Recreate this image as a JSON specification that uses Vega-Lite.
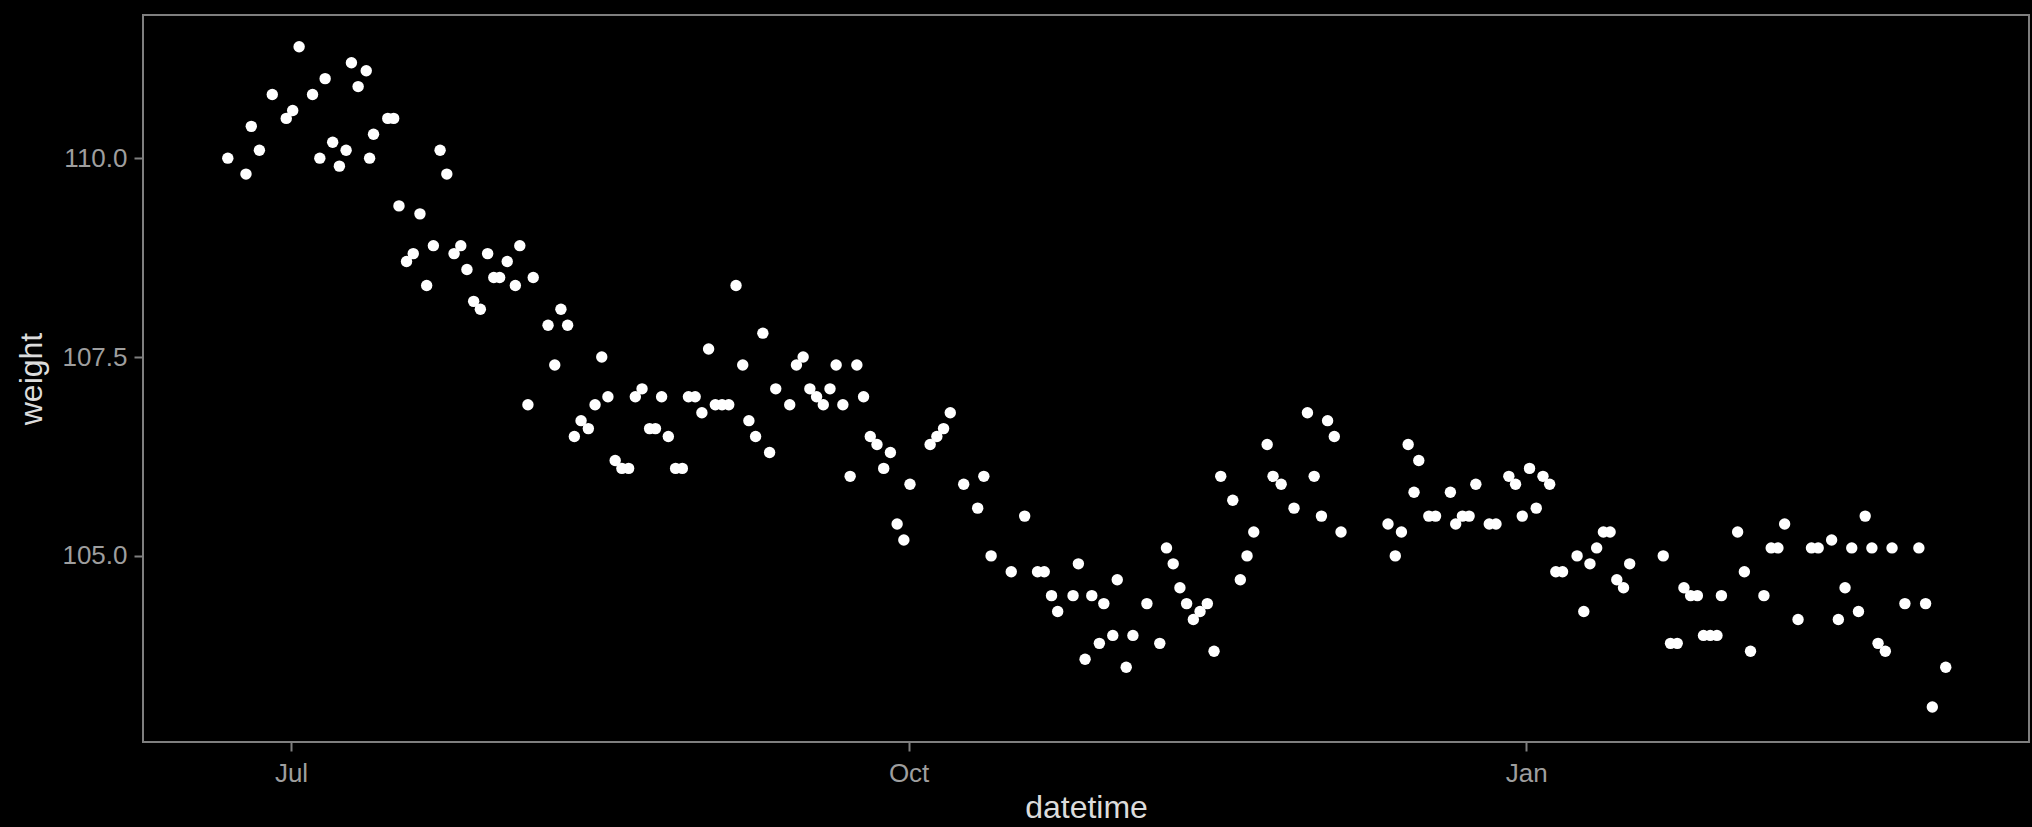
{
  "$schema": "https://vega.github.io/schema/vega-lite/v6.json",
  "width": 1886,
  "height": 727,
  "autosize": {"type": "none"},
  "padding": {"left": 143, "top": 15, "right": 3, "bottom": 85},
  "background": "#000000",
  "config": {
    "view": {"stroke": "#7f7f7f", "strokeWidth": 2, "fill": "#000000"},
    "axis": {
      "domain": false,
      "grid": false,
      "tickColor": "#7f7f7f",
      "tickWidth": 2,
      "tickSize": 9,
      "labelFont": "Liberation Sans",
      "labelFontSize": 26,
      "labelColor": "#9e9e9e",
      "titleFont": "Liberation Sans",
      "titleFontSize": 32,
      "titleFontWeight": "normal",
      "titleColor": "#dcdcdc"
    }
  },
  "data": {
    "values": [
      {"datetime": "2022-06-21T14:00", "weight": 110.0},
      {"datetime": "2022-06-24T07:00", "weight": 109.8},
      {"datetime": "2022-06-25T02:00", "weight": 110.4},
      {"datetime": "2022-06-26T07:00", "weight": 110.1},
      {"datetime": "2022-06-28T05:00", "weight": 110.8},
      {"datetime": "2022-06-30T07:00", "weight": 110.5},
      {"datetime": "2022-07-01T06:00", "weight": 110.6},
      {"datetime": "2022-07-02T05:00", "weight": 111.4},
      {"datetime": "2022-07-04T05:00", "weight": 110.8},
      {"datetime": "2022-07-05T07:00", "weight": 110.0},
      {"datetime": "2022-07-06T02:00", "weight": 111.0},
      {"datetime": "2022-07-07T05:00", "weight": 110.2},
      {"datetime": "2022-07-08T05:00", "weight": 109.9},
      {"datetime": "2022-07-09T05:00", "weight": 110.1},
      {"datetime": "2022-07-10T00:00", "weight": 111.2},
      {"datetime": "2022-07-11T00:00", "weight": 110.9},
      {"datetime": "2022-07-12T05:00", "weight": 111.1},
      {"datetime": "2022-07-12T17:00", "weight": 110.0},
      {"datetime": "2022-07-13T07:00", "weight": 110.3},
      {"datetime": "2022-07-15T10:00", "weight": 110.5},
      {"datetime": "2022-07-16T07:00", "weight": 110.5},
      {"datetime": "2022-07-17T02:00", "weight": 109.4},
      {"datetime": "2022-07-18T05:00", "weight": 108.7},
      {"datetime": "2022-07-19T05:00", "weight": 108.8},
      {"datetime": "2022-07-20T05:00", "weight": 109.3},
      {"datetime": "2022-07-21T05:00", "weight": 108.4},
      {"datetime": "2022-07-22T05:00", "weight": 108.9},
      {"datetime": "2022-07-23T05:00", "weight": 110.1},
      {"datetime": "2022-07-24T05:00", "weight": 109.8},
      {"datetime": "2022-07-25T07:00", "weight": 108.8},
      {"datetime": "2022-07-26T07:00", "weight": 108.9},
      {"datetime": "2022-07-27T05:00", "weight": 108.6},
      {"datetime": "2022-07-28T05:00", "weight": 108.2},
      {"datetime": "2022-07-29T05:00", "weight": 108.1},
      {"datetime": "2022-07-30T07:00", "weight": 108.8},
      {"datetime": "2022-07-31T05:00", "weight": 108.5},
      {"datetime": "2022-08-01T02:00", "weight": 108.5},
      {"datetime": "2022-08-02T05:00", "weight": 108.7},
      {"datetime": "2022-08-03T10:00", "weight": 108.4},
      {"datetime": "2022-08-04T02:00", "weight": 108.9},
      {"datetime": "2022-08-05T07:00", "weight": 106.9},
      {"datetime": "2022-08-06T02:00", "weight": 108.5},
      {"datetime": "2022-08-08T07:00", "weight": 107.9},
      {"datetime": "2022-08-09T07:00", "weight": 107.4},
      {"datetime": "2022-08-10T05:00", "weight": 108.1},
      {"datetime": "2022-08-11T05:00", "weight": 107.9},
      {"datetime": "2022-08-12T05:00", "weight": 106.5},
      {"datetime": "2022-08-13T05:00", "weight": 106.7},
      {"datetime": "2022-08-14T07:00", "weight": 106.6},
      {"datetime": "2022-08-15T07:00", "weight": 106.9},
      {"datetime": "2022-08-16T07:00", "weight": 107.5},
      {"datetime": "2022-08-17T05:00", "weight": 107.0},
      {"datetime": "2022-08-18T07:00", "weight": 106.2},
      {"datetime": "2022-08-19T07:00", "weight": 106.1},
      {"datetime": "2022-08-20T07:00", "weight": 106.1},
      {"datetime": "2022-08-21T07:00", "weight": 107.0},
      {"datetime": "2022-08-22T07:00", "weight": 107.1},
      {"datetime": "2022-08-23T10:00", "weight": 106.6},
      {"datetime": "2022-08-24T07:00", "weight": 106.6},
      {"datetime": "2022-08-25T05:00", "weight": 107.0},
      {"datetime": "2022-08-26T05:00", "weight": 106.5},
      {"datetime": "2022-08-27T07:00", "weight": 106.1},
      {"datetime": "2022-08-28T07:00", "weight": 106.1},
      {"datetime": "2022-08-29T05:00", "weight": 107.0},
      {"datetime": "2022-08-30T05:00", "weight": 107.0},
      {"datetime": "2022-08-31T05:00", "weight": 106.8},
      {"datetime": "2022-09-01T05:00", "weight": 107.6},
      {"datetime": "2022-09-02T05:00", "weight": 106.9},
      {"datetime": "2022-09-03T05:00", "weight": 106.9},
      {"datetime": "2022-09-04T05:00", "weight": 106.9},
      {"datetime": "2022-09-05T07:00", "weight": 108.4},
      {"datetime": "2022-09-06T07:00", "weight": 107.4},
      {"datetime": "2022-09-07T05:00", "weight": 106.7},
      {"datetime": "2022-09-08T05:00", "weight": 106.5},
      {"datetime": "2022-09-09T07:00", "weight": 107.8},
      {"datetime": "2022-09-10T07:00", "weight": 106.3},
      {"datetime": "2022-09-11T05:00", "weight": 107.1},
      {"datetime": "2022-09-13T07:00", "weight": 106.9},
      {"datetime": "2022-09-14T07:00", "weight": 107.4},
      {"datetime": "2022-09-15T07:00", "weight": 107.5},
      {"datetime": "2022-09-16T07:00", "weight": 107.1},
      {"datetime": "2022-09-17T07:00", "weight": 107.0},
      {"datetime": "2022-09-18T07:00", "weight": 106.9},
      {"datetime": "2022-09-19T07:00", "weight": 107.1},
      {"datetime": "2022-09-20T05:00", "weight": 107.4},
      {"datetime": "2022-09-21T05:00", "weight": 106.9},
      {"datetime": "2022-09-22T07:00", "weight": 106.0},
      {"datetime": "2022-09-23T07:00", "weight": 107.4},
      {"datetime": "2022-09-24T07:00", "weight": 107.0},
      {"datetime": "2022-09-25T07:00", "weight": 106.5},
      {"datetime": "2022-09-26T07:00", "weight": 106.4},
      {"datetime": "2022-09-27T07:00", "weight": 106.1},
      {"datetime": "2022-09-28T07:00", "weight": 106.3},
      {"datetime": "2022-09-29T07:00", "weight": 105.4},
      {"datetime": "2022-09-30T07:00", "weight": 105.2},
      {"datetime": "2022-10-01T05:00", "weight": 105.9},
      {"datetime": "2022-10-04T05:00", "weight": 106.4},
      {"datetime": "2022-10-05T05:00", "weight": 106.5},
      {"datetime": "2022-10-06T05:00", "weight": 106.6},
      {"datetime": "2022-10-07T05:00", "weight": 106.8},
      {"datetime": "2022-10-09T05:00", "weight": 105.9},
      {"datetime": "2022-10-11T07:00", "weight": 105.6},
      {"datetime": "2022-10-12T05:00", "weight": 106.0},
      {"datetime": "2022-10-13T07:00", "weight": 105.0},
      {"datetime": "2022-10-16T07:00", "weight": 104.8},
      {"datetime": "2022-10-18T07:00", "weight": 105.5},
      {"datetime": "2022-10-20T05:00", "weight": 104.8},
      {"datetime": "2022-10-21T05:00", "weight": 104.8},
      {"datetime": "2022-10-22T07:00", "weight": 104.5},
      {"datetime": "2022-10-23T05:00", "weight": 104.3},
      {"datetime": "2022-10-25T12:00", "weight": 104.5},
      {"datetime": "2022-10-26T07:00", "weight": 104.9},
      {"datetime": "2022-10-27T07:00", "weight": 103.7},
      {"datetime": "2022-10-28T07:00", "weight": 104.5},
      {"datetime": "2022-10-29T10:00", "weight": 103.9},
      {"datetime": "2022-10-30T02:00", "weight": 104.4},
      {"datetime": "2022-10-31T10:00", "weight": 104.0},
      {"datetime": "2022-11-01T02:00", "weight": 104.7},
      {"datetime": "2022-11-02T10:00", "weight": 103.6},
      {"datetime": "2022-11-03T10:00", "weight": 104.0},
      {"datetime": "2022-11-05T12:00", "weight": 104.4},
      {"datetime": "2022-11-07T10:00", "weight": 103.9},
      {"datetime": "2022-11-08T10:00", "weight": 105.1},
      {"datetime": "2022-11-09T10:00", "weight": 104.9},
      {"datetime": "2022-11-10T10:00", "weight": 104.6},
      {"datetime": "2022-11-11T10:00", "weight": 104.4},
      {"datetime": "2022-11-12T10:00", "weight": 104.2},
      {"datetime": "2022-11-13T10:00", "weight": 104.3},
      {"datetime": "2022-11-14T12:00", "weight": 104.4},
      {"datetime": "2022-11-15T12:00", "weight": 103.8},
      {"datetime": "2022-11-16T12:00", "weight": 106.0},
      {"datetime": "2022-11-18T07:00", "weight": 105.7},
      {"datetime": "2022-11-19T10:00", "weight": 104.7},
      {"datetime": "2022-11-20T10:00", "weight": 105.0},
      {"datetime": "2022-11-21T10:00", "weight": 105.3},
      {"datetime": "2022-11-23T10:00", "weight": 106.4},
      {"datetime": "2022-11-24T07:00", "weight": 106.0},
      {"datetime": "2022-11-25T12:00", "weight": 105.9},
      {"datetime": "2022-11-27T10:00", "weight": 105.6},
      {"datetime": "2022-11-29T10:00", "weight": 106.8},
      {"datetime": "2022-11-30T10:00", "weight": 106.0},
      {"datetime": "2022-12-01T12:00", "weight": 105.5},
      {"datetime": "2022-12-02T10:00", "weight": 106.7},
      {"datetime": "2022-12-03T10:00", "weight": 106.5},
      {"datetime": "2022-12-04T10:00", "weight": 105.3},
      {"datetime": "2022-12-11T10:00", "weight": 105.4},
      {"datetime": "2022-12-12T12:00", "weight": 105.0},
      {"datetime": "2022-12-13T10:00", "weight": 105.3},
      {"datetime": "2022-12-14T10:00", "weight": 106.4},
      {"datetime": "2022-12-15T07:00", "weight": 105.8},
      {"datetime": "2022-12-16T00:00", "weight": 106.2},
      {"datetime": "2022-12-17T12:00", "weight": 105.5},
      {"datetime": "2022-12-18T12:00", "weight": 105.5},
      {"datetime": "2022-12-20T17:00", "weight": 105.8},
      {"datetime": "2022-12-21T12:00", "weight": 105.4},
      {"datetime": "2022-12-22T12:00", "weight": 105.5},
      {"datetime": "2022-12-23T12:00", "weight": 105.5},
      {"datetime": "2022-12-24T12:00", "weight": 105.9},
      {"datetime": "2022-12-26T12:00", "weight": 105.4},
      {"datetime": "2022-12-27T12:00", "weight": 105.4},
      {"datetime": "2022-12-29T10:00", "weight": 106.0},
      {"datetime": "2022-12-30T10:00", "weight": 105.9},
      {"datetime": "2022-12-31T10:00", "weight": 105.5},
      {"datetime": "2023-01-01T12:00", "weight": 106.1},
      {"datetime": "2023-01-02T12:00", "weight": 105.6},
      {"datetime": "2023-01-03T12:00", "weight": 106.0},
      {"datetime": "2023-01-04T12:00", "weight": 105.9},
      {"datetime": "2023-01-05T10:00", "weight": 104.8},
      {"datetime": "2023-01-06T10:00", "weight": 104.8},
      {"datetime": "2023-01-08T14:00", "weight": 105.0},
      {"datetime": "2023-01-09T14:00", "weight": 104.3},
      {"datetime": "2023-01-10T12:00", "weight": 104.9},
      {"datetime": "2023-01-11T12:00", "weight": 105.1},
      {"datetime": "2023-01-12T12:00", "weight": 105.3},
      {"datetime": "2023-01-13T12:00", "weight": 105.3},
      {"datetime": "2023-01-14T12:00", "weight": 104.7},
      {"datetime": "2023-01-15T12:00", "weight": 104.6},
      {"datetime": "2023-01-16T10:00", "weight": 104.9},
      {"datetime": "2023-01-21T10:00", "weight": 105.0},
      {"datetime": "2023-01-22T12:00", "weight": 103.9},
      {"datetime": "2023-01-23T12:00", "weight": 103.9},
      {"datetime": "2023-01-24T12:00", "weight": 104.6},
      {"datetime": "2023-01-25T12:00", "weight": 104.5},
      {"datetime": "2023-01-26T12:00", "weight": 104.5},
      {"datetime": "2023-01-27T10:00", "weight": 104.0},
      {"datetime": "2023-01-28T10:00", "weight": 104.0},
      {"datetime": "2023-01-29T10:00", "weight": 104.0},
      {"datetime": "2023-01-30T02:00", "weight": 104.5},
      {"datetime": "2023-02-01T12:00", "weight": 105.3},
      {"datetime": "2023-02-02T12:00", "weight": 104.8},
      {"datetime": "2023-02-03T10:00", "weight": 103.8},
      {"datetime": "2023-02-05T10:00", "weight": 104.5},
      {"datetime": "2023-02-06T12:00", "weight": 105.1},
      {"datetime": "2023-02-07T12:00", "weight": 105.1},
      {"datetime": "2023-02-08T12:00", "weight": 105.4},
      {"datetime": "2023-02-10T12:00", "weight": 104.2},
      {"datetime": "2023-02-12T12:00", "weight": 105.1},
      {"datetime": "2023-02-13T12:00", "weight": 105.1},
      {"datetime": "2023-02-15T12:00", "weight": 105.2},
      {"datetime": "2023-02-16T12:00", "weight": 104.2},
      {"datetime": "2023-02-17T12:00", "weight": 104.6},
      {"datetime": "2023-02-18T12:00", "weight": 105.1},
      {"datetime": "2023-02-19T12:00", "weight": 104.3},
      {"datetime": "2023-02-20T12:00", "weight": 105.5},
      {"datetime": "2023-02-21T12:00", "weight": 105.1},
      {"datetime": "2023-02-22T10:00", "weight": 103.9},
      {"datetime": "2023-02-23T12:00", "weight": 103.8},
      {"datetime": "2023-02-24T12:00", "weight": 105.1},
      {"datetime": "2023-02-26T10:00", "weight": 104.4},
      {"datetime": "2023-02-28T12:00", "weight": 105.1},
      {"datetime": "2023-03-01T12:00", "weight": 104.4},
      {"datetime": "2023-03-02T12:00", "weight": 103.1},
      {"datetime": "2023-03-04T12:00", "weight": 103.6}
    ]
  },
  "mark": {"type": "point", "filled": true, "color": "#ffffff", "opacity": 1, "size": 130, "strokeWidth": 0},
  "encoding": {
    "x": {
      "field": "datetime",
      "type": "temporal",
      "scale": {"domain": ["2022-06-08T22:50", "2023-03-16T21:40"], "nice": false},
      "axis": {
        "title": "datetime",
        "values": [
          {"year": 2022, "month": "jul", "date": 1},
          {"year": 2022, "month": "oct", "date": 1},
          {"year": 2023, "month": "jan", "date": 1}
        ],
        "format": "%b",
        "labelPadding": 9,
        "titlePadding": 6
      }
    },
    "y": {
      "field": "weight",
      "type": "quantitative",
      "scale": {"domain": [102.66, 111.8], "nice": false, "zero": false},
      "axis": {
        "title": "weight",
        "values": [105, 107.5, 110],
        "format": ".1f",
        "labelPadding": 7,
        "titlePadding": 13
      }
    }
  }
}
